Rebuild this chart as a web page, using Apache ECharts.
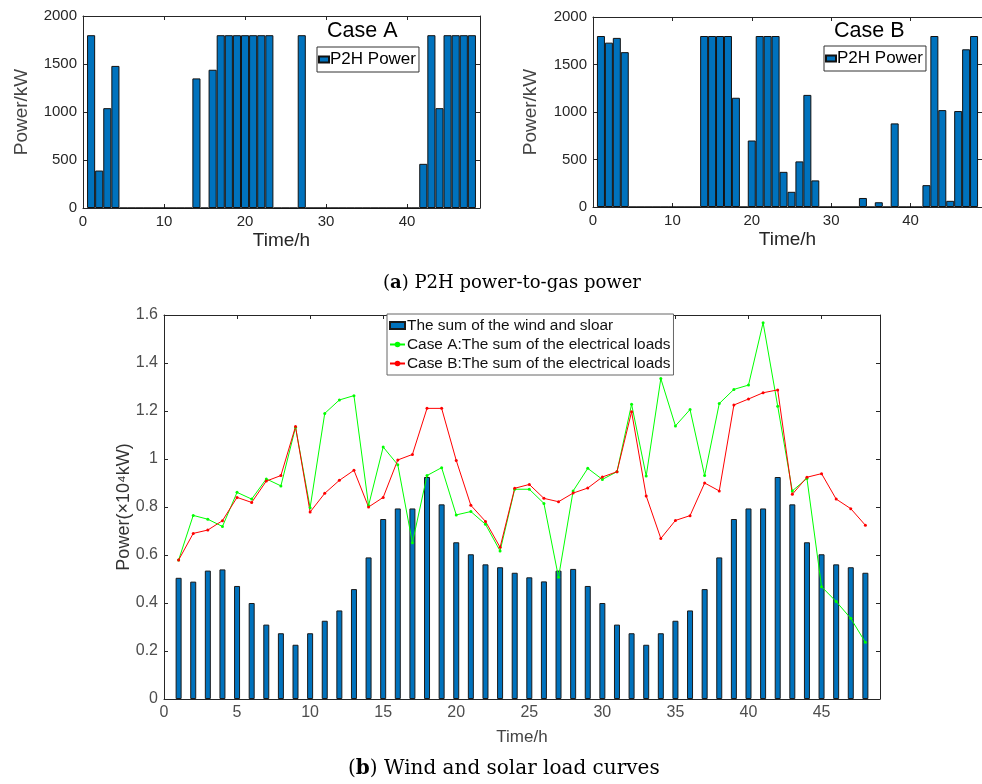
<!DOCTYPE html>
<html>
<head>
<meta charset="utf-8">
<script src="https://cdn.jsdelivr.net/npm/echarts@6/dist/echarts.min.js"></script>
<style>
  html, body { margin: 0; padding: 0; background: #fff; }
  #chart { width: 982px; height: 784px; }
</style>
</head>
<body>
<div id="chart"></div>
<script>
// hours 1..48
const hours = [1, 2, 3, 4, 5, 6, 7, 8, 9, 10, 11, 12, 13, 14, 15, 16, 17, 18, 19, 20, 21, 22, 23, 24,
  25, 26, 27, 28, 29, 30, 31, 32, 33, 34, 35, 36, 37, 38, 39, 40, 41, 42, 43, 44, 45, 46, 47, 48];

// (a) P2H power, kW
const p2hCaseA = [1800, 390, 1040, 1480, 0, 0, 0, 0, 0, 0, 0, 0, 0, 1350, 0, 1440, 1800, 1800, 1800, 1800, 1800, 1800, 1800, 0,
  0, 0, 1800, 0, 0, 0, 0, 0, 0, 0, 0, 0, 0, 0, 0, 0, 0, 460, 1800, 1040, 1800, 1800, 1800, 1800];
const p2hCaseB = [1800, 1730, 1780, 1630, 0, 0, 0, 0, 0, 0, 0, 0, 0, 1800, 1800, 1800, 1800, 1150, 0, 700, 1800, 1800, 1800, 370,
  160, 480, 1180, 280, 0, 0, 0, 0, 0, 95, 0, 50, 0, 880, 0, 0, 0, 230, 1800, 1020, 65, 1010, 1660, 1800];

// (b) x10^4 kW
const windSolar = [0.505, 0.489, 0.535, 0.540, 0.471, 0.400, 0.310, 0.274, 0.226, 0.274, 0.326, 0.369, 0.458, 0.590, 0.750, 0.794,
  0.794, 0.925, 0.811, 0.653, 0.603, 0.561, 0.549, 0.526, 0.507, 0.490, 0.535, 0.542, 0.471, 0.400, 0.310, 0.274,
  0.226, 0.274, 0.326, 0.369, 0.458, 0.590, 0.750, 0.794, 0.794, 0.925, 0.811, 0.653, 0.603, 0.561, 0.549, 0.526];
const loadCaseA = [0.579, 0.765, 0.749, 0.719, 0.861, 0.833, 0.917, 0.888, 1.132, 0.797, 1.190, 1.246, 1.264, 0.806, 1.050, 0.976,
  0.651, 0.931, 0.964, 0.767, 0.781, 0.728, 0.617, 0.874, 0.874, 0.815, 0.507, 0.867, 0.961, 0.915, 0.947, 1.228,
  0.929, 1.335, 1.138, 1.206, 0.931, 1.231, 1.290, 1.308, 1.568, 1.220, 0.867, 0.919, 0.468, 0.406, 0.336, 0.236];
const loadCaseB = [0.579, 0.690, 0.704, 0.743, 0.840, 0.819, 0.908, 0.931, 1.135, 0.779, 0.857, 0.911, 0.953, 0.800, 0.840, 0.996,
  1.019, 1.211, 1.211, 0.994, 0.807, 0.740, 0.632, 0.878, 0.894, 0.836, 0.822, 0.858, 0.879, 0.925, 0.947, 1.197,
  0.846, 0.669, 0.744, 0.764, 0.900, 0.867, 1.225, 1.250, 1.276, 1.288, 0.853, 0.924, 0.939, 0.833, 0.793, 0.724];

const nameWS = 'The sum of the wind and sloar';
const nameA = 'Case A:The sum of the electrical loads';
const nameB = 'Case B:The sum of the electrical loads';

const font = 'Liberation Sans';
const serif = 'DejaVu Serif';
const ink = '#262626';

const xy = vals => hours.map((h, i) => [h, vals[i]]);
const plain = v => String(v);

const chart = echarts.init(document.getElementById('chart'));

const xAxes = [];
const yAxes = [];

// one boxed axes pair (bottom/left with labels, top/right ticks only)
function addBox(grid, x, y, labelSize, labelColor) {
  const common = { gridIndex: grid, type: 'value', splitLine: { show: false },
    axisLine: { show: true, onZero: false, lineStyle: { color: ink, width: 1 } },
    axisTick: { show: true, inside: true, length: 4, lineStyle: { color: ink } } };
  xAxes.push(Object.assign({}, common, {
    position: 'bottom', min: x.min, max: x.max, interval: x.interval,
    name: 'Time/h', nameLocation: 'middle', nameGap: x.nameGap, nameMoveOverlap: false,
    nameTextStyle: { fontFamily: font, fontSize: x.nameSize, color: x.nameColor },
    axisLabel: { fontFamily: font, fontSize: labelSize, color: labelColor, margin: 6, showMaxLabel: false, formatter: plain }
  }));
  xAxes.push(Object.assign({}, common, {
    position: 'top', min: x.min, max: x.max, interval: x.interval, axisLabel: { show: false }
  }));
  yAxes.push(Object.assign({}, common, {
    position: 'left', min: y.min, max: y.max, interval: y.interval,
    name: y.name, nameLocation: 'middle', nameGap: y.nameGap, nameMoveOverlap: false,
    nameTextStyle: { fontFamily: font, fontSize: y.nameSize, color: y.nameColor },
    axisLabel: { fontFamily: font, fontSize: labelSize, color: labelColor, margin: 6, formatter: plain }
  }));
  yAxes.push(Object.assign({}, common, {
    position: 'right', min: y.min, max: y.max, interval: y.interval, axisLabel: { show: false }
  }));
}

addBox(0, { min: 0, max: 49, interval: 10, nameGap: 23, nameSize: 19, nameColor: ink },
  { min: 0, max: 2000, interval: 500, name: 'Power/kW', nameGap: 52, nameSize: 19, nameColor: '#444' }, 15, ink);
addBox(1, { min: 0, max: 49, interval: 10, nameGap: 23, nameSize: 19, nameColor: ink },
  { min: 0, max: 2000, interval: 500, name: 'Power/kW', nameGap: 53, nameSize: 19, nameColor: '#444' }, 15, ink);
addBox(2, { min: 0, max: 49, interval: 5, nameGap: 30, nameSize: 17, nameColor: '#444' },
  { min: 0, max: 1.6, interval: 0.2, name: 'Power(×10⁴kW)', nameGap: 31, nameSize: 18, nameColor: '#333' }, 16, '#4d4d4d');

const barStyle = { color: '#0072BD', borderColor: '#111', borderWidth: 1 };

chart.setOption({
  animation: false,
  backgroundColor: '#fff',
  grid: [
    { left: 83, top: 16, width: 397, height: 192 },
    { left: 593, top: 17, width: 393, height: 190 },
    { left: 164, top: 315, width: 716, height: 384 }
  ],
  xAxis: xAxes,
  yAxis: yAxes,
  title: [
    { text: 'Case A', left: 327, top: 20, padding: 0,
      textStyle: { fontFamily: font, fontSize: 21.5, fontWeight: 'normal', color: '#000' } },
    { text: 'Case B', left: 834, top: 20, padding: 0,
      textStyle: { fontFamily: font, fontSize: 21.5, fontWeight: 'normal', color: '#000' } },
    { text: '({b|a}) P2H power-to-gas power', left: 383, top: 274, padding: 0,
      textStyle: { fontFamily: serif, fontSize: 18, fontWeight: 'normal', color: '#000',
        rich: { b: { fontFamily: serif, fontSize: 18, fontWeight: 'bold', color: '#000' } } } },
    { text: '({b|b}) Wind and solar load curves', left: 348, top: 759, padding: 0,
      textStyle: { fontFamily: serif, fontSize: 20, fontWeight: 'normal', color: '#000',
        rich: { b: { fontFamily: serif, fontSize: 20, fontWeight: 'bold', color: '#000' } } } }
  ],
  legend: [
    { data: [{ name: 'P2H Power', icon: 'rect' }], left: 317, top: 47, itemWidth: 10, itemHeight: 6, itemGap: 0,
      padding: [4, 3, 4, 1], borderColor: '#333', borderWidth: 1, backgroundColor: '#fff', selectedMode: false,
      textStyle: { fontFamily: font, fontSize: 17, color: '#000', padding: [0, 0, 0, -4] } },
    { data: [{ name: 'P2H Power', icon: 'rect' }], left: 824, top: 46, itemWidth: 10, itemHeight: 6, itemGap: 0,
      padding: [4, 3, 4, 1], borderColor: '#333', borderWidth: 1, backgroundColor: '#fff', selectedMode: false,
      textStyle: { fontFamily: font, fontSize: 17, color: '#000', padding: [0, 0, 0, -4] } },
    { data: [{ name: nameWS, icon: 'rect' }, nameA, nameB], orient: 'vertical', left: 387, top: 314,
      itemWidth: 15, itemHeight: 7, itemGap: 2, padding: [3, 3, 3, 2], borderColor: '#666', borderWidth: 1,
      backgroundColor: '#fff', selectedMode: false,
      textStyle: { fontFamily: font, fontSize: 15.4, lineHeight: 17, color: '#111', padding: [0, 0, 0, -3] } }
  ],
  series: [
    { name: 'P2H Power', type: 'bar', xAxisIndex: 0, yAxisIndex: 0, barWidth: 8.1,
      data: xy(p2hCaseA), itemStyle: barStyle },
    { name: 'P2H Power', type: 'bar', xAxisIndex: 2, yAxisIndex: 2, barWidth: 8,
      data: xy(p2hCaseB), itemStyle: barStyle },
    { name: nameWS, type: 'bar', xAxisIndex: 4, yAxisIndex: 4, barWidth: 6,
      data: xy(windSolar), itemStyle: { color: '#0072BD', borderColor: '#1a1a1a', borderWidth: 1 } },
    { name: nameA, type: 'line', xAxisIndex: 4, yAxisIndex: 4, data: xy(loadCaseA),
      symbol: 'circle', symbolSize: 3, showAllSymbol: true,
      lineStyle: { color: '#00ff00', width: 1 }, itemStyle: { color: '#00ff00' } },
    { name: nameB, type: 'line', xAxisIndex: 4, yAxisIndex: 4, data: xy(loadCaseB),
      symbol: 'circle', symbolSize: 3, showAllSymbol: true,
      lineStyle: { color: '#ff0000', width: 1 }, itemStyle: { color: '#ff0000' } }
  ]
});
</script>
</body>
</html>
